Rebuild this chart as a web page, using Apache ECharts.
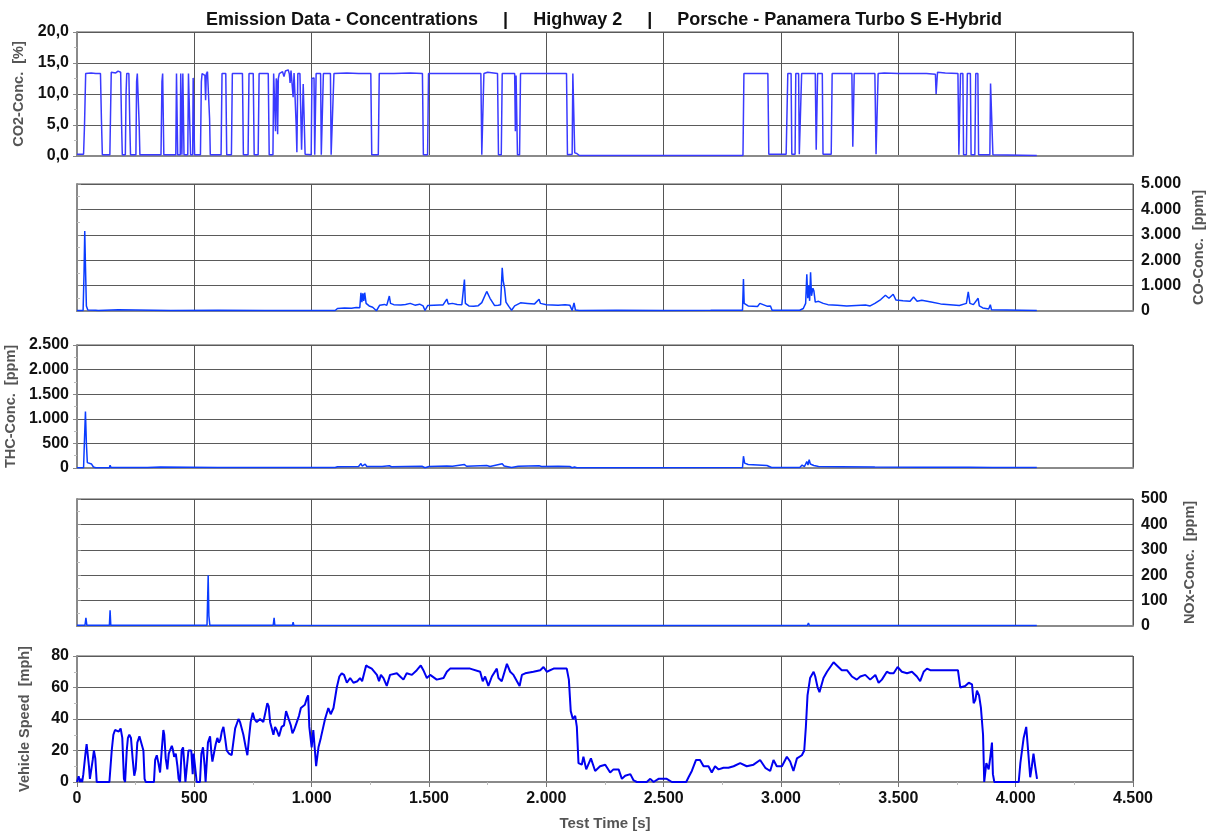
<!DOCTYPE html>
<html><head><meta charset="utf-8">
<script src="https://cdn.jsdelivr.net/npm/echarts@6/dist/echarts.min.js"></script>
<style>html,body{margin:0;padding:0;background:#fff}#c{width:1208px;height:836px}</style>
</head><body><div id="c"></div>
<script>
const titleText = 'Emission Data - Concentrations     |     Highway 2     |     Porsche - Panamera Turbo S E-Hybrid';
const xTicks = [0, 500, 1000, 1500, 2000, 2500, 3000, 3500, 4000, 4500];
const axisNames = ['CO2-Conc.  [%]', 'CO-Conc.  [ppm]', 'THC-Conc.  [ppm]', 'NOx-Conc.  [ppm]', 'Vehicle Speed  [mph]'];
const yMax = [20, 5000, 2500, 500, 80];
const yStep = [5, 1000, 500, 100, 20];

const co2 = [[0,0.3],[28,0.3],[32,5],[37,13.3],[60,13.4],[80,13.3],[100,13.3],[104,6],[108,0.2],
[140,0.2],[143,7],[146,13.5],[165,13.4],[175,13.7],[186,13.5],[190,5],[193,0.2],
[206,0.2],[209,10],[212,13.3],[221,13.3],[225,5],[228,0.2],
[251,0.2],[254,12],[257,13.3],[262,13.2],[265,5],[268,0.2],
[358,0.2],[362,12],[365,13.3],[367,8],[370,0.2],
[421,0.2],[424,13.3],[426,13.3],[429,0.2],
[440,0.2],[442,13.3],[445,13.3],[447,0.2],[449,0.2],[451,13.3],[454,13.3],[456,0.2],
[472,0.2],[475,13.3],[481,13.3],[484,0.2],
[493,0.2],[495,12.6],[498,12.6],[501,0.2],
[526,0.2],[530,12],[533,13.3],[540,13.6],[545,13],[548,9],[551,13.2],[556,13.6],[562,13.3],[565,6],[568,0.2],
[614,0.2],[618,13.3],[634,13.3],[638,0.2],
[658,0.2],[662,13.3],[705,13.3],[709,0.2],
[729,0.2],[733,13.3],[751,13.3],[755,0.2],
[772,0.2],[776,13.3],[815,13.3],[819,0.2],
[835,0.2],[838,13.3],[843,13.2],[846,4],[849,12.5],[852,12],[855,3.5],[858,12.5],[862,13.3],[870,13.4],[876,13.6],[882,12.8],[888,13.7],[894,13.5],[900,13.9],[905,13.2],[908,11.8],[912,13.8],[918,13.6],[921,9.5],[925,13.4],[930,13.3],[934,5],[937,0.6],[941,13.3],[950,13.3],[954,13.2],[957,1],[961,1],[964,11.6],[968,11.6],[972,0.3],
[998,0.2],[1001,12.5],[1010,12.6],[1013,0.2],
[1016,0.2],[1019,13.3],[1038,13.3],[1041,0.2],
[1046,0.2],[1050,13.3],[1080,13.3],[1083,0.2],
[1091,0.2],[1095,13.3],[1150,13.4],[1200,13.3],[1252,13.3],[1256,0.2],
[1284,0.2],[1288,13.3],[1350,13.3],[1420,13.4],[1472,13.3],[1476,0.2],
[1494,0.2],[1498,13.3],[1560,13.3],[1640,13.3],[1721,13.3],[1725,0.2],
[1730,0.2],[1734,13.3],[1750,13.5],[1792,13.3],[1796,0.2],
[1808,0.2],[1812,13.3],[1865,13.3],[1868,4],[1871,13],[1874,13.3],[1877,0.2],
[1886,0.2],[1890,13.3],[1990,13.3],[2086,13.3],[2090,0.2],
[2110,0.3],[2113,13.3],[2118,13.3],[2121,0.5],[2130,0.4],[2140,0.1],
[2838,0.1],[2842,13.3],[2900,13.3],[2944,13.3],[2948,0.3],[3022,0.3],
[3025,0.3],[3029,13.3],[3043,13.3],[3046,0.3],
[3060,0.3],[3063,13.3],[3075,13.3],[3078,0.3],
[3084,0.3],[3088,13.3],[3146,13.3],[3150,1],[3153,1],[3156,13.3],[3176,13.3],[3179,0.3],
[3214,0.3],[3218,13.3],[3302,13.3],[3306,1.5],[3309,1.5],[3312,13.3],[3400,13.3],[3405,0.3],[3410,0.3],[3414,13.3],[3420,13.6],[3440,13.4],[3500,13.3],[3560,13.3],[3620,13.3],[3658,13.2],[3661,10],[3664,10],[3667,13.5],[3700,13.4],[3754,13.3],[3758,0.2],
[3762,0.2],[3765,13.3],[3775,13.3],[3778,0.2],
[3790,0.2],[3794,13.3],[3807,13.3],[3810,0.2],
[3826,0.2],[3830,13.3],[3839,13.3],[3842,0.2],
[3890,0.2],[3893,11.7],[3900,11.5],[3903,0.2],[4090,0.1]];

const co = [[0,20],[26,20],[30,1500],[33,3150],[36,1800],[40,200],[46,40],[80,30],[90,20],[176,50],[180,20],[400,20],[600,25],[800,20],[1000,20],[1100,20],[1110,100],[1140,120],[1170,110],[1190,140],[1205,130],[1210,720],[1214,350],[1218,700],[1222,400],[1226,720],[1232,300],[1245,200],[1260,150],[1276,10],[1290,230],[1310,260],[1320,220],[1331,590],[1336,300],[1350,250],[1380,240],[1400,260],[1420,300],[1440,230],[1460,270],[1475,200],[1483,20],[1495,220],[1520,230],[1545,240],[1560,240],[1576,470],[1582,280],[1600,300],[1620,260],[1640,250],[1651,1240],[1655,300],[1670,200],[1690,190],[1710,210],[1725,330],[1746,770],[1760,500],[1779,220],[1795,230],[1805,250],[1812,1700],[1816,1200],[1822,900],[1828,350],[1840,180],[1852,30],[1865,200],[1890,320],[1920,300],[1950,280],[1969,460],[1975,300],[2000,250],[2050,230],[2080,250],[2100,230],[2110,20],[2118,320],[2124,40],[2140,20],[2300,25],[2500,20],[2700,25],[2836,30],[2840,1260],[2843,300],[2860,200],[2900,180],[2910,300],[2940,190],[2955,200],[2962,30],[3000,30],[3080,30],[3095,100],[3105,300],[3110,1450],[3114,500],[3118,1000],[3122,400],[3126,1520],[3130,600],[3136,900],[3140,800],[3146,350],[3160,380],[3180,300],[3200,250],[3240,230],[3280,200],[3320,220],[3360,240],[3380,200],[3400,300],[3425,450],[3445,620],[3460,500],[3478,660],[3490,430],[3520,400],[3550,380],[3565,550],[3580,380],[3600,420],[3640,350],[3680,280],[3720,250],[3760,220],[3790,300],[3798,750],[3805,300],[3820,250],[3840,500],[3845,200],[3860,120],[3885,80],[3892,250],[3897,50],[3905,20],[4090,20]];

const thc = [[0,5],[28,5],[32,600],[36,1150],[40,500],[44,110],[50,90],[62,80],[70,20],[80,5],[138,5],[141,55],[145,10],[300,8],[355,20],[360,8],[600,8],[900,10],[1100,10],[1110,25],[1200,30],[1210,90],[1215,40],[1228,80],[1235,30],[1300,30],[1331,45],[1340,25],[1400,30],[1470,35],[1483,5],[1500,30],[1576,40],[1600,35],[1651,70],[1660,35],[1746,50],[1760,30],[1812,85],[1820,40],[1852,10],[1880,35],[1969,45],[1980,30],[2050,35],[2100,30],[2110,5],[2120,20],[2130,5],[2400,5],[2836,10],[2840,240],[2845,100],[2860,70],[2900,60],[2940,50],[2960,10],[3080,10],[3090,60],[3100,30],[3110,130],[3115,60],[3120,170],[3125,80],[3130,120],[3140,50],[3160,30],[3250,25],[3400,20],[3600,15],[3800,15],[3900,10],[4090,10]];

const nox = [[0,3],[34,3],[38,32],[42,3],[138,3],[141,62],[144,3],[300,3],[554,3],[557,120],[559,200],[562,40],[566,3],[836,3],[840,32],[843,3],[918,3],[921,15],[924,3],[1500,2],[2500,2],[3036,2],[3040,8],[3043,2],[3112,2],[3117,12],[3121,2],[3400,2],[3403,6],[3406,2],[4090,2]];

const speed = [[0,0],[7,3.6],[13,0],[18,2],[22,0],[27,5],[36,18],[41,24],[45,24],[51,10],[55,2],[61,2],[67,14],[72,20],[78,15],[84,0],[138,0],[148,20],[155,30],[162,33],[169,33],[178,32],[186,34],[193,28],[200,2],[205,0],[212,20],[217,28],[223,30],[230,28],[237,15],[244,4],[250,8],[257,25],[266,29],[274,28],[283,20],[288,2],[293,0],[328,0],[333,14],[340,17],[347,12],[354,6],[361,20],[368,33],[372,30],[378,15],[385,8],[391,18],[396,20],[404,23],[408,21],[414,16],[421,18],[428,10],[433,2],[439,0],[446,20],[452,22],[458,10],[462,0],[468,1],[475,20],[482,21],[487,20],[493,5],[497,18],[503,10],[510,0],[524,0],[530,18],[537,22],[544,10],[548,0],[554,0],[558,25],[567,29],[573,18],[577,13],[584,14],[591,24],[598,28],[605,25],[611,27],[617,32],[624,35],[631,28],[638,20],[648,18],[659,17],[666,25],[674,34],[681,37],[688,40],[695,38],[702,39],[709,30],[719,22],[726,17],[733,28],[740,38],[749,44],[756,40],[766,38],[780,40],[794,38],[804,45],[811,50],[817,48],[823,38],[830,34],[837,30],[844,35],[851,33],[861,29],[872,35],[882,36],[891,45],[897,44],[902,40],[911,36],[918,31],[925,33],[932,36],[939,37],[946,42],[954,47],[962,46],[971,49],[979,53],[985,55],[990,35],[1000,22],[1007,33],[1019,10],[1029,22],[1039,28],[1047,28],[1057,40],[1071,47],[1081,43],[1093,47],[1107,60],[1118,67],[1128,69],[1138,68],[1150,63],[1164,66],[1178,63],[1195,64],[1206,66],[1215,64],[1232,74],[1242,73],[1256,72],[1278,68],[1287,64],[1295,68],[1306,66],[1320,61],[1334,68],[1363,69],[1377,67],[1391,65],[1405,69],[1427,68],[1448,71],[1465,74],[1476,71],[1491,66],[1505,68],[1533,65],[1562,66],[1576,70],[1590,72],[1633,72],[1675,72],[1718,70],[1729,64],[1739,67],[1753,61],[1768,67],[1789,72],[1796,66],[1810,64],[1832,75],[1846,70],[1860,68],[1886,61],[1896,68],[1910,69],[1945,70],[1974,71],[1988,73],[2002,70],[2031,72],[2087,72],[2096,65],[2104,45],[2113,40],[2123,42],[2130,35],[2137,12],[2151,11],[2158,16],[2170,8],[2190,15],[2208,7],[2229,10],[2251,11],[2272,6],[2286,8],[2308,8],[2322,2],[2336,4],[2358,5],[2372,1],[2386,0],[2428,0],[2443,2],[2457,0],[2478,2],[2485,1],[2499,2],[2513,2],[2535,0],[2596,0],[2606,3],[2620,7],[2638,14],[2655,14],[2670,10],[2691,10],[2705,6],[2719,10],[2734,8],[2755,9],[2776,9],[2798,10],[2826,12],[2854,10],[2883,11],[2911,14],[2933,9],[2954,7],[2968,14],[2982,10],[3004,10],[3025,16],[3039,13],[3053,7],[3068,15],[3089,17],[3099,20],[3106,35],[3113,55],[3124,66],[3139,70],[3146,67],[3156,60],[3164,57],[3181,66],[3196,70],[3224,76],[3238,74],[3259,71],[3281,71],[3302,67],[3323,65],[3338,67],[3359,68],[3380,65],[3402,68],[3416,63],[3430,65],[3451,70],[3465,69],[3480,69],[3497,73],[3515,70],[3537,69],[3558,70],[3579,67],[3593,64],[3608,70],[3622,72],[3636,71],[3693,71],[3735,71],[3754,71],[3764,60],[3785,61],[3800,63],[3814,62],[3821,50],[3828,52],[3835,58],[3844,55],[3852,47],[3861,30],[3866,0],[3875,12],[3885,8],[3892,16],[3899,25],[3903,5],[3909,0],[4013,0],[4020,12],[4034,28],[4045,35],[4052,34],[4062,3],[4069,10],[4076,18],[4083,10],[4091,2]];

const seriesData = [co2, co, thc, nox, speed];
const lineColors = ['#3a3aff', '#0a3cff', '#0a3cff', '#0a3cff', '#0000f0'];
const lineWidths = [1.5, 1.5, 1.5, 1.5, 2];
const sides = ['left', 'right', 'left', 'right', 'left'];
const grids = [
  {top: 32, height: 124}, {top: 184, height: 127}, {top: 345, height: 123},
  {top: 499, height: 127}, {top: 656, height: 126}
];

function thou(v) { return String(v).replace(/\B(?=(\d{3})+(?!\d))/g, '.'); }
const FONT = 'Liberation Sans, Arial, sans-serif';

const chart = echarts.init(document.getElementById('c'));
const option = {
  animation: false,
  backgroundColor: '#ffffff',
  title: {
    text: titleText, left: 'center', top: 6,
    textStyle: {fontFamily: FONT, fontWeight: 'bold', fontSize: 18, color: '#111'}
  },
  grid: grids.map(g => ({left: 77, right: 75, top: g.top, height: g.height, show: true,
    containLabel: false, outerBoundsMode: 'none',
    borderColor: '#555', borderWidth: 1, backgroundColor: 'transparent'})),
  xAxis: grids.map((g, i) => ({
    type: 'value', gridIndex: i, min: 0, max: 4500, interval: 500,
    axisLine: {show: true, onZero: false, lineStyle: {color: '#8a8a8a', width: 2}},
    axisTick: {show: i === 4, length: 5, lineStyle: {color: '#777'}},
    minorTick: {show: i === 4, splitNumber: 2, length: 3, lineStyle: {color: '#bbb'}},
    splitLine: {show: true, lineStyle: {color: '#555', width: 1}},
    axisLabel: {show: i === 4, formatter: v => thou(v), fontFamily: FONT, fontWeight: 'bold',
      fontSize: 16, color: '#111', margin: 9},
    name: i === 4 ? 'Test Time [s]' : '', nameLocation: 'middle', nameGap: 34,
    nameTextStyle: {fontFamily: FONT, fontWeight: 'bold', fontSize: 15, color: '#555'}
  })),
  yAxis: grids.map((g, i) => ({
    type: 'value', gridIndex: i, min: 0, max: yMax[i], interval: yStep[i], position: sides[i],
    axisLine: {show: true, lineStyle: {color: '#8a8a8a', width: 2}},
    axisTick: {show: true, length: 4, lineStyle: {color: '#888'}},
    minorTick: {show: true, splitNumber: 2, length: 3, lineStyle: {color: '#bbb'}},
    splitLine: {show: true, lineStyle: {color: '#5a5a5a', width: 1}},
    axisLabel: {
      formatter: i === 0 ? (v => v.toFixed(1).replace('.', ',')) : (v => thou(v)),
      fontFamily: FONT, fontWeight: 'bold', fontSize: 16, color: '#111', margin: 8
    },
    name: axisNames[i], nameLocation: 'middle', nameRotate: 90,
    nameGap: sides[i] === 'left' ? 45 : 49,
    nameTextStyle: {fontFamily: FONT, fontWeight: 'bold', fontSize: 14.5, color: '#555'}
  })),
  series: seriesData.map((d, i) => ({
    type: 'line', xAxisIndex: i, yAxisIndex: i, data: d, showSymbol: false,
    lineStyle: {color: lineColors[i], width: lineWidths[i]}, silent: true
  }))
};
chart.setOption(option);
</script>
</body></html>
